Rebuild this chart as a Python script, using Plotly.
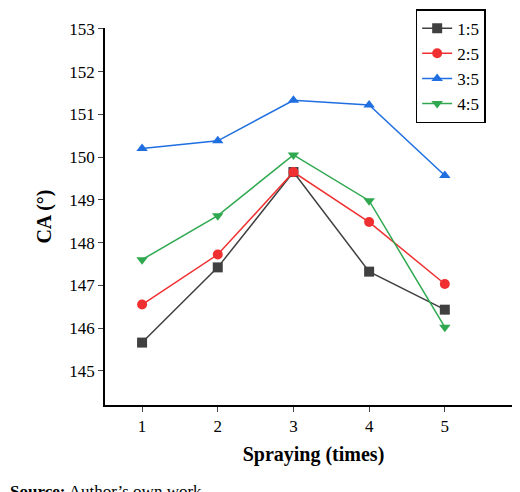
import plotly.graph_objects as go

x = [1, 2, 3, 4, 5]
series = {
    "1:5": [145.66, 147.42, 149.65, 147.32, 146.43],
    "2:5": [146.55, 147.72, 149.65, 148.48, 147.03],
    "3:5": [150.2, 150.38, 151.33, 151.22, 149.57],
    "4:5": [147.6, 148.63, 150.05, 148.98, 146.02],
}
colors = ["#404040", "#f03030", "#1f6fe0", "#2fa84f"]
symbols = ["square", "circle", "triangle-up", "triangle-down"]

fig = go.Figure()
for (name, vals), c, s in zip(series.items(), colors, symbols):
    fig.add_trace(go.Scatter(x=x, y=vals, name=name, mode="lines+markers",
                             line=dict(color=c, width=1.5),
                             marker=dict(symbol=s, size=10, color=c)))

font = "Liberation Serif"
fig.update_layout(
    width=520, height=492, plot_bgcolor="white", paper_bgcolor="white",
    margin=dict(l=97, r=6, t=20, b=95, autoexpand=False),
    font=dict(family=font, size=17, color="black"),
    legend=dict(x=0.745, y=1.05, xanchor="left", yanchor="top",
                bordercolor="black", borderwidth=1.5,
                font=dict(family=font, size=17, color="black")),
    xaxis=dict(range=[0.51, 6.02], tickvals=[1, 2, 3, 4, 5, 6], showline=True,
               linecolor="black", linewidth=1.5, ticks="outside", ticklen=5,
               showgrid=False, zeroline=False,
               title=dict(text="<b>Spraying (times)</b>", font=dict(size=20), standoff=12)),
    yaxis=dict(range=[144.2, 153.02], tickvals=list(range(145, 154)), showline=True,
               linecolor="black", linewidth=1.5, ticks="outside", ticklen=5,
               showgrid=False, zeroline=False,
               title=dict(text="<b>CA (°)</b>", font=dict(size=20), standoff=12)),
)
fig.add_annotation(text="<b>Source:</b> Author’s own work", xref="paper", yref="paper",
                   x=-0.233, y=-0.2, xanchor="left", yanchor="top", showarrow=False,
                   font=dict(family=font, size=17))
fig.write_html("out.html")
